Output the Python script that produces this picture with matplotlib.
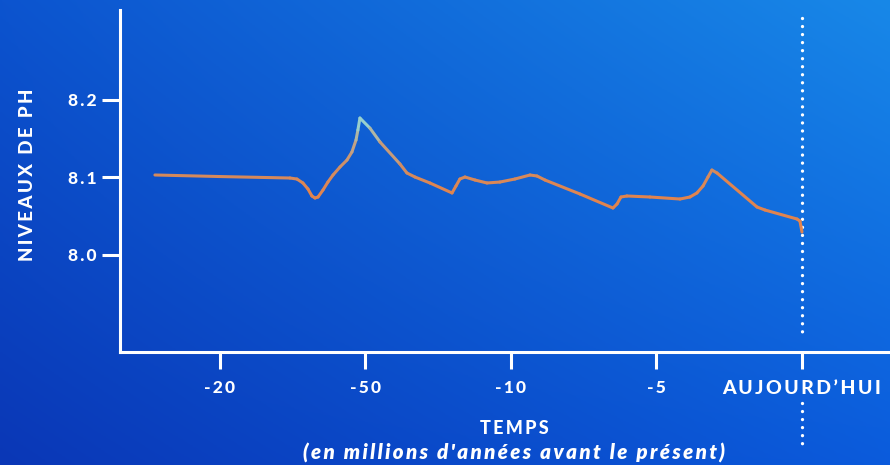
import numpy as np
import matplotlib
matplotlib.use("Agg")
import matplotlib.pyplot as plt
from matplotlib.collections import LineCollection
from matplotlib.colors import LinearSegmentedColormap
from matplotlib.transforms import ScaledTranslation

# tick labels (categorical time axis, as printed on the poster)
tick_labels = ["-20", "-50", "-10", "-5", "AUJOURD\u2019HUI"]
ytick_vals = [8.0, 8.1, 8.2]

# pH curve (x in tick units: 0 = "-20", 4 = today)
time_pos = [-0.447, 0.0, 0.481, 0.529, 0.570, 0.605, 0.632, 0.653, 0.674,
            0.708, 0.742, 0.777, 0.825, 0.873, 0.907, 0.935, 0.948, 0.962,
            1.031, 1.100, 1.237, 1.285, 1.340, 1.443, 1.595, 1.622, 1.649,
            1.684, 1.753, 1.835, 1.924, 2.027, 2.131, 2.179, 2.234, 2.474,
            2.701, 2.729, 2.756, 2.797, 2.955, 3.162, 3.230, 3.278, 3.320,
            3.354, 3.381, 3.416, 3.691, 3.746, 3.966, 3.986, 4.0]
ph = [8.1026, 8.1006, 8.0987, 8.0974, 8.0923, 8.0845, 8.0755, 8.0729, 8.0742,
      8.0832, 8.0935, 8.1026, 8.1129, 8.1219, 8.1323, 8.1477, 8.1606, 8.1761,
      8.1630, 8.1452, 8.1168, 8.1052, 8.1000, 8.0923, 8.0794, 8.0884, 8.0974,
      8.1000, 8.0961, 8.0923, 8.0935, 8.0974, 8.1026, 8.1013, 8.0961, 8.0781,
      8.0600, 8.0652, 8.0742, 8.0755, 8.0742, 8.0716, 8.0742, 8.0794, 8.0884,
      8.1000, 8.1090, 8.1052, 8.0613, 8.0574, 8.0458, 8.0432, 8.0290]


def spaced(s, sep="\u2009"):
    return sep.join(s)


FONT = ["Lato", "DejaVu Sans"]
plt.rcParams["font.family"] = FONT
W = 900

fig = plt.figure(figsize=(8.9, 4.65), dpi=100)

# background gradient
bg = fig.add_axes([0, 0, 1, 1])
u = np.linspace(0, 1, 300)[None, :]
v = np.linspace(1, 0, 160)[:, None]
tl = np.array([0x0c, 0x54, 0xcf]) / 255
tr = np.array([0x18, 0x88, 0xe8]) / 255
bl = np.array([0x0a, 0x37, 0xb6]) / 255
br = np.array([0x0b, 0x5b, 0xdc]) / 255
grad = ((1 - u)[..., None] * (v[..., None] * tl + (1 - v)[..., None] * bl)
        + u[..., None] * (v[..., None] * tr + (1 - v)[..., None] * br))
bg.imshow(grad, extent=[0, 1, 0, 1], aspect="auto")
bg.axis("off")
bg.set_zorder(0)

ax = fig.add_axes([120 / 890, 1 - 352 / 465, 770 / 890, 342 / 465])
ax.set_zorder(1)
ax.patch.set_alpha(0)
ax.set_xlim(-0.687, 4.605)
ax.set_ylim(7.8742, 8.3155)

for s in ["top", "right"]:
    ax.spines[s].set_visible(False)
for s in ["left", "bottom"]:
    ax.spines[s].set_color("white")
    ax.spines[s].set_linewidth(2.2)

ax.set_xticks(range(len(tick_labels)))
ax.set_xticklabels([spaced(t) for t in tick_labels], fontsize=12.5,
                   fontweight=W, color="white")
last = ax.get_xticklabels()[-1]
last.set_fontsize(14)
last.set_transform(last.get_transform()
                   + ScaledTranslation(5 / 100, 0, fig.dpi_scale_trans))
ax.set_yticks(ytick_vals)
ax.set_yticklabels([spaced("%.1f" % t) for t in ytick_vals], fontsize=12.5,
                   fontweight=W, color="white")
ax.tick_params(axis="x", direction="out", length=12, width=2.2,
               color="white", pad=8)
ax.tick_params(axis="y", direction="out", length=13, width=2.2,
               color="white", pad=4)

# gradient coloured pH line
pts = np.column_stack([time_pos, ph])
segs = np.stack([pts[:-1], pts[1:]], axis=1)
cmap = LinearSegmentedColormap.from_list(
    "ph", ["#e0844f", "#d08c62", "#bfa489", "#8fd9dc"])
norm = plt.Normalize(8.08, 8.175)
lc = LineCollection(segs, cmap=cmap, norm=norm, linewidths=2.2,
                    capstyle="round", joinstyle="round", zorder=3)
lc.set_array((pts[:-1, 1] + pts[1:, 1]) / 2)
ax.add_collection(lc)

# dotted "today" marker
ax.plot([4, 4], [8.305, 7.896], color="white", lw=2.4,
        ls=(0, (0.01, 2.4)), dash_capstyle="round", zorder=2)
ax.plot([4, 4], [7.808, 7.750], color="white", lw=2.4,
        ls=(0, (0.01, 2.4)), dash_capstyle="round", clip_on=False, zorder=2)

fig.text(28 / 890, 1 - 175 / 465, spaced("NIVEAUX DE PH"), rotation=90,
         ha="center", va="center", fontsize=13.5, fontweight=W,
         color="white")
fig.text(514 / 890, 1 - 428 / 465, spaced("TEMPS"), ha="center", va="center",
         fontsize=13, fontweight=W, color="white")
fig.text(514 / 890, 1 - 453 / 465,
         spaced("(en millions d'ann\u00e9es avant le pr\u00e9sent)"),
         ha="center", va="center", fontsize=14.8, fontweight=800,
         fontstyle="italic", color="white")

fig.savefig("out.png", dpi=100)
